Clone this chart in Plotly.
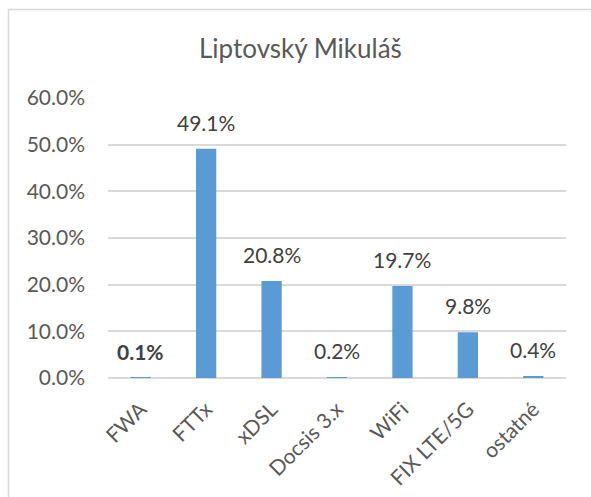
import plotly.graph_objects as go

# Broadband technology shares, Liptovský Mikuláš
categories = ["FWA", "FTTx", "xDSL", "Docsis 3.x", "WiFi", "FIX LTE/5G", "ostatné"]
shares = [0.1, 49.1, 20.8, 0.2, 19.7, 9.8, 0.4]
bold_label = [True, False, False, False, False, False, False]
y_ticks = [0, 10, 20, 30, 40, 50, 60]
y_tick_text = [f"{v:.1f}%" for v in y_ticks]

FONT = "Lato, Carlito, Calibri, sans-serif"
GRAY = "#595959"
DARK = "#404040"
LINE = "#d9d9d9"

fig = go.Figure(
    go.Bar(
        x=categories,
        y=shares,
        marker=dict(color="#5b9bd5", line=dict(width=0)),
        width=0.31,
        hoverinfo="skip",
    )
)

# value labels above each bar
for cat, val, bold in zip(categories, shares, bold_label):
    txt = f"{val:.1f}%"
    if bold:
        txt = f"<b>{txt}</b>"
    fig.add_annotation(
        x=cat, y=val, xref="x", yref="y",
        text=txt, showarrow=False,
        yanchor="bottom", yshift=12,
        font=dict(family=FONT, size=21, color=DARK),
    )

# chart title
fig.add_annotation(
    x=(300 - 108) / 458, y=(378 - 48) / 280, xref="paper", yref="paper",
    text="Liptovský Mikuláš", showarrow=False,
    xanchor="center", yanchor="middle",
    font=dict(family=FONT, size=26, color=GRAY),
)

# chart frame (left and top edges)
fig.add_shape(
    type="path",
    xref="paper", yref="paper",
    path="M -0.2172 -1 L -0.2172 1.316 L 1.5 1.316",
    line=dict(color=LINE, width=1.5),
)

fig.update_layout(
    width=591, height=497,
    margin=dict(l=108, r=25, t=98, b=119, autoexpand=False),
    paper_bgcolor="white", plot_bgcolor="white",
    showlegend=False,
    font=dict(family=FONT, color=GRAY),
)
fig.update_xaxes(
    tickangle=-45, tickfont=dict(family=FONT, size=21, color=GRAY),
    showgrid=False, showline=False, ticks="", ticklabelstandoff=14,
    automargin=False,
)
fig.update_yaxes(
    range=[0, 60], tickvals=y_ticks, ticktext=y_tick_text,
    tickfont=dict(family=FONT, size=21, color=GRAY),
    showgrid=True, gridcolor=LINE, gridwidth=1.5,
    zeroline=True, zerolinecolor=LINE, zerolinewidth=1.5,
    showline=False, ticks="", ticklabelstandoff=22,
    automargin=False,
)

fig.write_html("out.html")
